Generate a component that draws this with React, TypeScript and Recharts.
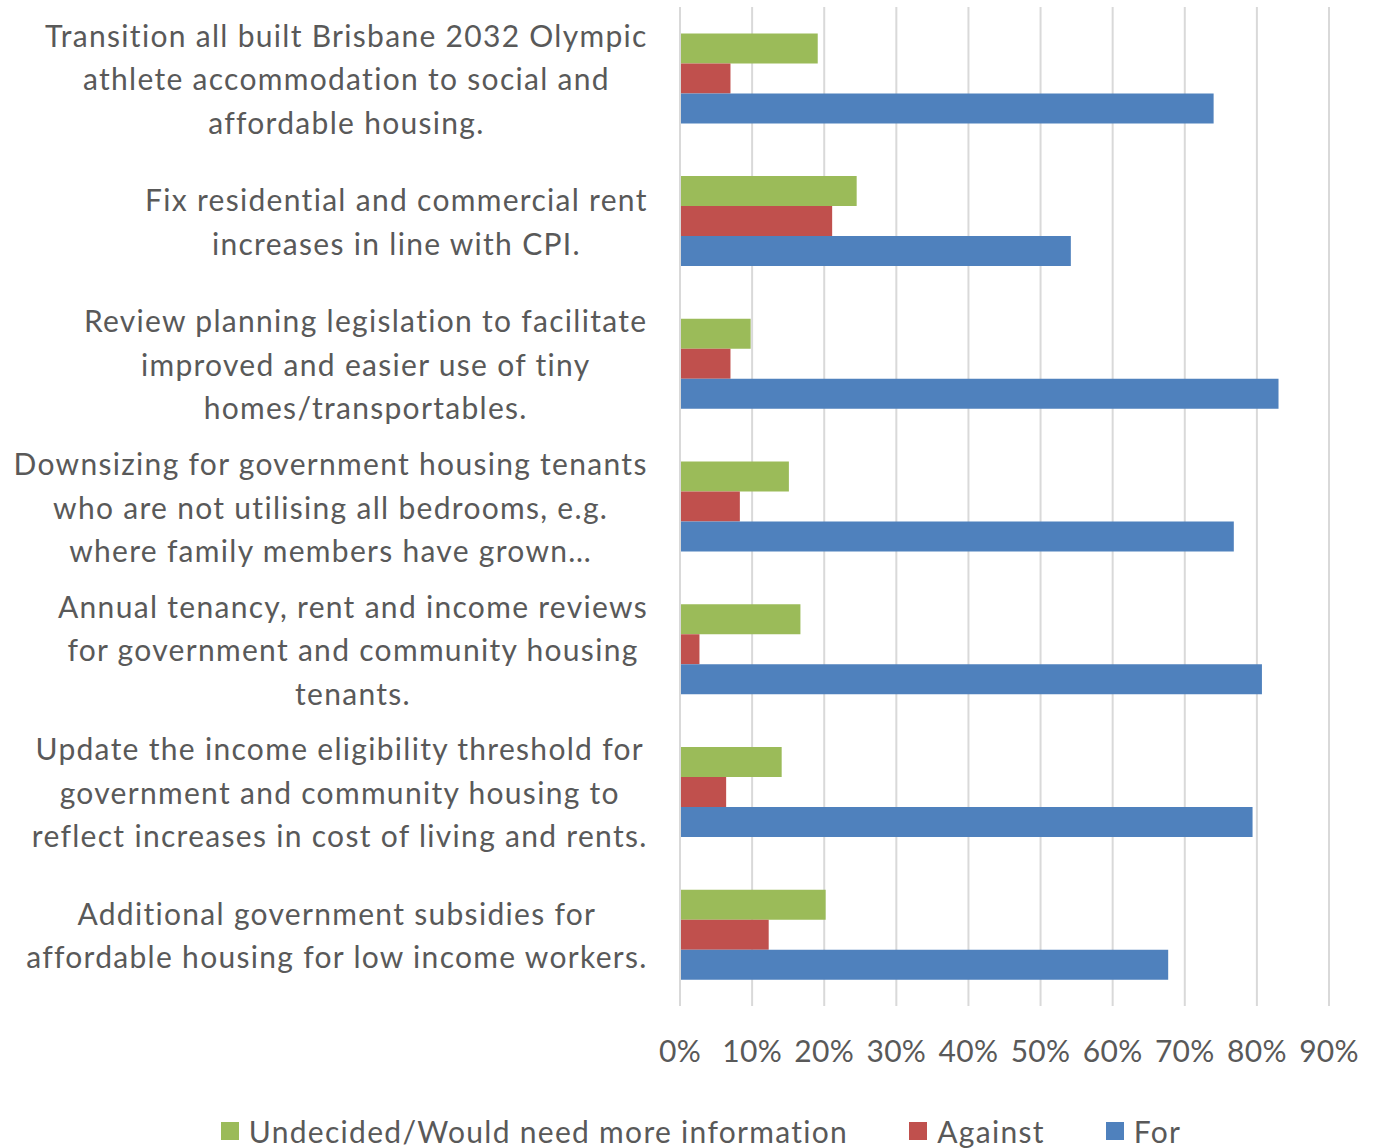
import React from 'react'
import { BarChart, Bar, XAxis, YAxis, CartesianGrid } from 'recharts'

const categories = [
  'Transition all built Brisbane 2032 Olympic\nathlete accommodation to social and\naffordable housing.',
  'Fix residential and commercial rent\nincreases in line with CPI.',
  'Review planning legislation to facilitate\nimproved and easier use of tiny\nhomes/transportables.',
  'Downsizing for government housing tenants\nwho are not utilising all bedrooms, e.g.\nwhere family members have grown…',
  'Annual tenancy, rent and income reviews\nfor government and community housing\ntenants.',
  'Update the income eligibility threshold for\ngovernment and community housing to\nreflect increases in cost of living and rents.',
  'Additional government subsidies for\naffordable housing for low income workers.',
]

const undecided = [19.1, 24.5, 9.8, 15.1, 16.7, 14.1, 20.2]
const against = [7.0, 21.1, 7.0, 8.3, 2.7, 6.4, 12.3]
const forVotes = [74.0, 54.2, 83.0, 76.8, 80.7, 79.4, 67.7]

const xTicks = [0, 10, 20, 30, 40, 50, 60, 70, 80, 90]

const series = [
  { key: 'undecided', name: 'Undecided/Would need more information', color: '#9BBB59' },
  { key: 'against', name: 'Against', color: '#C0504D' },
  { key: 'for', name: 'For', color: '#4F81BD' },
]

const data = categories.map((c, i) => ({
  category: c,
  undecided: undecided[i],
  against: against[i],
  for: forVotes[i],
}))

const FONT = 'Lato'
const FONT_SIZE = 30
const LS = 1.3
const TEXT = '#595959'

let ctx: CanvasRenderingContext2D | null = null
function measure(s: string) {
  if (!ctx) ctx = document.createElement('canvas').getContext('2d')
  if (!ctx) return s.length * (FONT_SIZE * 0.5 + LS)
  ctx.font = `${FONT_SIZE}px ${FONT}`
  return ctx.measureText(s).width + s.length * LS
}

const CategoryTick = (props: any) => {
  const { x, y, payload } = props
  const lines: string[] = String(payload.value).split('\n')
  // tick x is already 8px left of the axis
  const right = x - 24
  const maxW = Math.max(...lines.map(measure))
  const cx = right - maxW / 2
  const lh = 43.5
  return (
    <g>
      {lines.map((l, i) => (
        <text
          key={i}
          x={cx}
          y={y + (i - (lines.length - 1) / 2) * lh}
          textAnchor="middle"
          dominantBaseline="central"
          fill={TEXT}
          fontSize={FONT_SIZE}
          fontFamily={FONT}
          letterSpacing={LS}
        >
          {l}
        </text>
      ))}
    </g>
  )
}

export default function App() {
  return (
    <div style={{ position: 'absolute', left: 0, top: 0, width: 1378, height: 1148, background: '#fff', fontFamily: FONT }}>
      <BarChart
        width={1378}
        height={1148}
        data={data}
        layout="vertical"
        margin={{ top: 7, right: 49, left: 0, bottom: 82 }}
        barCategoryGap="18.5%"
        barGap={0}
      >
        <CartesianGrid horizontal={false} stroke="#D9D9D9" strokeWidth={2} />
        <XAxis
          type="number"
          domain={[0, 90]}
          ticks={xTicks}
          tickFormatter={(v) => `${v}%`}
          axisLine={false}
          tickLine={false}
          tickSize={0}
          tickMargin={35}
          height={60}
          tick={{ fill: TEXT, fontSize: FONT_SIZE, fontFamily: FONT, letterSpacing: 0.3 }}
          interval={0}
        />
        <YAxis
          type="category"
          dataKey="category"
          width={680}
          axisLine={{ stroke: '#D9D9D9', strokeWidth: 2 }}
          tickLine={false}
          tick={<CategoryTick />}
          interval={0}
        />
        {series.map((s) => (
          <Bar key={s.key} dataKey={s.key} name={s.name} fill={s.color} isAnimationActive={false} />
        ))}
      </BarChart>
      <div
        style={{
          position: 'absolute',
          top: 1111,
          left: 24,
          width: 1354,
          display: 'flex',
          justifyContent: 'center',
          gap: 61,
          color: TEXT,
          fontSize: FONT_SIZE,
          fontFamily: FONT,
          letterSpacing: LS,
          lineHeight: '40px',
        }}
      >
        {series.map((s) => (
          <div key={s.key} style={{ display: 'flex', alignItems: 'center' }}>
            <span style={{ width: 18, height: 18, background: s.color, marginRight: 10, display: 'inline-block' }} />
            <span>{s.name}</span>
          </div>
        ))}
      </div>
    </div>
  )
}
